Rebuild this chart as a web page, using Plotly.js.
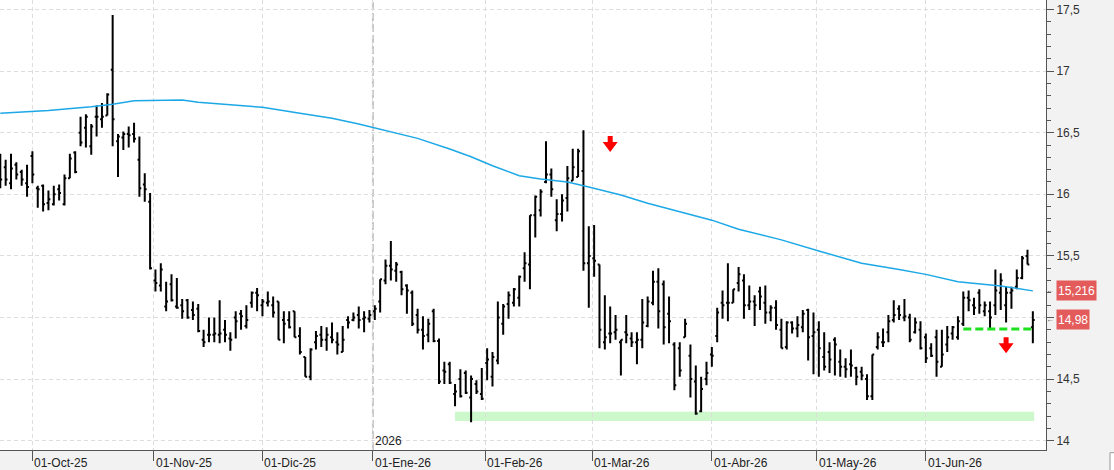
<!DOCTYPE html>
<html>
<head>
<meta charset="utf-8">
<script src="https://cdn.plot.ly/plotly-3.0.1.min.js"></script>
<style>
html,body{margin:0;padding:0;background:#f2f2f2;}
#chart{width:1114px;height:470px;}
</style>
</head>
<body>
<div id="chart"></div>
<script>
// ---- calendar ----
const startDate = '2025-09-23';
const endDate = '2026-06-29';
const holidays = ['2025-12-25','2025-12-26','2026-01-01','2026-04-03','2026-04-06','2026-05-01'];

// ---- OHLC data (one value per trading day) ----
const open = [
16.25,16.22,16.09,16.24,16.18,16.09,16.31,16.05,16.07,15.93,
15.92,16.04,15.92,16.13,16.34,16.50,16.54,16.39,16.63,16.61,
16.64,17.01,16.43,16.46,16.49,16.49,16.28,16.08,15.94,15.30,
15.26,15.09,15.27,15.09,15.10,15.14,15.06,15.07,14.82,14.86,
14.86,14.86,14.90,14.83,15.00,15.03,14.93,15.12,15.20,15.10,
15.12,15.10,15.13,14.98,14.98,15.05,14.85,14.68,14.52,14.80,
14.86,14.82,14.84,14.80,14.72,14.98,14.98,15.02,14.99,14.99,
15.05,15.13,15.30,15.42,15.38,15.37,15.26,15.20,15.02,14.90,
14.86,15.05,14.81,14.57,14.62,14.38,14.50,14.55,14.35,14.46,
14.38,14.63,14.52,14.65,14.95,15.11,15.12,15.16,15.40,15.43,
15.83,15.87,16.10,16.16,15.79,15.84,15.97,16.11,16.14,16.19,
15.44,15.48,15.43,14.80,14.87,14.88,14.80,14.88,14.83,14.80,
14.82,14.93,15.12,15.29,15.27,15.03,14.78,14.75,14.84,14.69,
14.48,14.24,14.50,14.70,14.85,15.12,15.12,15.12,15.28,15.30,
15.10,15.13,15.21,15.12,15.04,15.08,14.90,14.76,14.96,14.91,
14.92,15.06,14.85,14.90,14.68,14.72,14.82,14.64,14.60,14.62,
14.59,14.56,14.50,14.36,14.76,14.80,14.88,14.98,15.07,15.00,
15.00,14.88,14.90,14.84,14.75,14.84,14.60,14.78,14.87,14.84,
14.95,15.16,15.10,15.20,15.05,15.05,15.10,15.20,15.10,15.20,
15.25,15.32,15.50,14.92];
const high = [
16.33,16.28,16.33,16.26,16.20,16.24,16.35,16.07,16.08,16.03,
16.07,16.08,16.16,16.33,16.35,16.63,16.65,16.57,16.72,16.74,
16.82,17.455,16.49,16.51,16.55,16.58,16.47,16.17,16.01,15.39,
15.44,15.29,15.35,15.32,15.15,15.15,15.13,15.11,14.90,15.00,
15.00,15.14,14.98,14.88,15.05,15.06,15.10,15.21,15.24,15.15,
15.21,15.17,15.13,15.05,15.05,15.05,14.92,14.68,14.75,14.89,
14.93,14.92,14.96,14.88,14.93,15.01,15.04,15.09,15.05,15.06,
15.10,15.31,15.47,15.62,15.45,15.38,15.27,15.22,15.07,15.01,
14.99,15.07,14.83,14.64,14.64,14.46,14.58,14.57,14.53,14.49,
14.59,14.75,14.72,15.13,15.11,15.21,15.24,15.34,15.53,15.83,
15.99,16.04,16.43,16.21,15.96,16.00,16.23,16.37,16.37,16.52,
15.74,15.75,15.43,15.18,15.09,15.02,14.82,15.02,14.88,14.88,
15.15,15.17,15.38,15.40,15.30,15.17,14.80,14.80,14.99,14.78,
14.61,14.52,14.64,14.76,15.08,15.22,15.44,15.23,15.41,15.35,
15.26,15.18,15.25,15.26,15.10,15.14,14.99,14.97,14.97,15.01,
15.06,15.07,15.04,14.97,14.88,14.80,14.84,14.74,14.67,14.74,
14.60,14.60,14.54,14.70,14.88,14.91,15.02,15.14,15.10,15.15,
15.03,15.00,14.97,14.87,14.79,14.90,14.90,14.93,14.93,15.01,
15.21,15.22,15.16,15.23,15.13,15.13,15.39,15.36,15.25,15.25,
15.39,15.50,15.55,15.05];
const low = [
16.05,16.07,16.04,16.12,16.07,15.98,16.09,15.89,15.86,15.87,
15.91,15.95,15.91,16.13,16.17,16.39,16.38,16.32,16.47,16.54,
16.64,16.39,16.14,16.36,16.38,16.42,15.98,15.94,15.39,15.21,
15.21,15.05,15.13,15.07,14.99,14.99,14.98,14.88,14.76,14.80,
14.80,14.79,14.80,14.73,14.83,14.90,14.91,15.08,15.05,15.01,
15.09,15.00,14.82,14.79,14.91,14.84,14.70,14.52,14.49,14.74,
14.76,14.73,14.79,14.70,14.72,14.91,14.97,14.91,14.88,14.96,
14.98,15.04,15.27,15.30,15.29,15.18,15.03,14.93,14.87,14.74,
14.80,14.80,14.46,14.46,14.46,14.28,14.35,14.38,14.15,14.38,
14.33,14.49,14.44,14.62,14.86,14.99,15.09,15.09,15.29,15.23,
15.65,15.82,16.09,15.98,15.70,15.78,15.86,16.11,16.14,15.38,
15.08,15.33,14.75,14.74,14.79,14.82,14.53,14.79,14.76,14.62,
14.75,14.92,15.10,14.91,14.78,14.79,14.41,14.52,14.84,14.35,
14.21,14.23,14.45,14.60,14.80,14.99,14.97,15.12,15.21,14.99,
15.06,14.93,15.06,14.95,14.97,14.90,14.75,14.74,14.87,14.84,
14.88,14.65,14.54,14.52,14.57,14.55,14.53,14.52,14.51,14.52,
14.45,14.49,14.33,14.33,14.74,14.76,14.80,14.96,14.98,14.97,
14.80,14.87,14.74,14.63,14.68,14.52,14.60,14.72,14.82,14.82,
14.93,15.05,15.02,15.03,15.01,14.91,15.02,15.06,14.96,15.07,
15.23,15.31,15.43,14.79];
const close = [
16.12,16.12,16.21,16.16,16.12,16.06,16.16,16.04,15.92,15.96,
16.00,16.01,16.13,16.29,16.18,16.42,16.63,16.55,16.63,16.63,
16.81,16.61,16.47,16.49,16.48,16.45,16.05,16.04,15.40,15.28,
15.39,15.13,15.14,15.08,15.05,15.00,15.02,14.89,14.80,14.86,
14.87,14.87,14.86,14.82,14.97,15.01,14.98,15.20,15.18,15.13,
15.13,15.04,14.82,14.95,14.92,14.84,14.72,14.52,14.74,14.85,
14.82,14.86,14.82,14.78,14.82,14.96,15.00,14.98,15.00,15.02,
15.07,15.31,15.42,15.39,15.43,15.23,15.22,14.95,14.90,14.85,
14.95,14.81,14.48,14.56,14.47,14.40,14.36,14.39,14.50,14.40,
14.34,14.66,14.68,15.00,15.09,15.18,15.23,15.33,15.44,15.83,
15.98,16.02,16.16,16.04,15.84,15.95,16.13,16.22,16.35,15.44,
15.50,15.46,14.90,14.84,14.87,14.90,14.82,14.86,14.80,14.82,
14.96,15.13,15.29,15.05,14.92,14.97,14.45,14.57,14.95,14.50,
14.22,14.42,14.55,14.69,15.04,15.10,15.12,15.23,15.35,15.10,
15.13,15.10,15.17,15.04,15.08,14.94,14.75,14.96,14.91,14.94,
15.03,14.84,14.88,14.75,14.60,14.66,14.78,14.60,14.58,14.61,
14.52,14.53,14.36,14.70,14.84,14.80,14.97,15.02,15.02,15.01,
14.82,14.96,14.75,14.67,14.69,14.64,14.70,14.84,14.92,14.97,
15.16,15.14,15.08,15.10,15.10,15.00,15.22,15.30,15.20,15.22,
15.32,15.48,15.43,14.98];

// ---- moving average (sampled readings, bar number -> value) ----
const maBar = [0,9,17,21,25,30,34,37,45,49,56,62,67,71,78,84,88,92,97,101,106,110,116,121,127,133,138,146,153,161,168,173,179,187,193];
const maVal = [16.657,16.68,16.71,16.73,16.76,16.765,16.765,16.747,16.717,16.706,16.657,16.617,16.571,16.53,16.454,16.368,16.305,16.232,16.151,16.124,16.10,16.06,15.994,15.927,15.859,15.79,15.716,15.63,15.54,15.44,15.39,15.35,15.29,15.256,15.216];

// ---- axis labels ----
const monthStarts = ['2025-10-01','2025-11-01','2025-12-01','2026-01-01','2026-02-01','2026-03-01','2026-04-01','2026-05-01','2026-06-01'];
const monthLabels = ['01-Oct-25','01-Nov-25','01-Dic-25','01-Ene-26','01-Feb-26','01-Mar-26','01-Abr-26','01-May-26','01-Jun-26'];
const yearStart = '2026-01-01';
const yearLabel = '2026';
const priceTicks = [14, 14.5, 15, 15.5, 16, 16.5, 17, 17.5];
// the "15" label is covered by the last-price tag in the original
const priceTickLabels = ['14', '14,5', '', '15,5', '16', '16,5', '17', '17,5'];

// ---- drawings ----
const supportZone = {from:'2026-01-23', to:'2026-06-29', lo:14.16, hi:14.235};
const breakLine = {from:'2026-06-10', to:'2026-06-29', level:14.907};
const arrows = [{date:'2026-03-05', top:16.473},{date:'2026-06-22', top:14.839}];

// trading-day calendar
function tradingDays(s, e, hol){
  const out=[]; const d=new Date(s+'T00:00:00Z'); const end=new Date(e+'T00:00:00Z');
  while(d<=end){
    const wd=d.getUTCDay(); const iso=d.toISOString().slice(0,10);
    if(wd!==0 && wd!==6 && hol.indexOf(iso)<0) out.push(iso);
    d.setUTCDate(d.getUTCDate()+1);
  }
  return out;
}
const dates = tradingDays(startDate, endDate, holidays);
const idx = dates.map((_,i)=>i);
function barOf(date){ for(let i=0;i<dates.length;i++){ if(dates[i]>=date) return i; } return dates.length-1; }
// a calendar boundary that is not a trading day sits slightly before the next session
function boundaryOf(date){ const i=barOf(date); return dates[i]===date ? i : i-0.35; }
const monthIdx = monthStarts.map(boundaryOf);
const yearIdx = boundaryOf(yearStart);

const fmt = (v,n)=>v.toFixed(n).replace('.',',');

const traces = [
  {type:'ohlc', x:idx, open:open, high:high, low:low, close:close,
   increasing:{line:{color:'#000000', width:2}}, decreasing:{line:{color:'#000000', width:2}},
   tickwidth:0.35, hoverinfo:'skip'},
  {type:'scatter', mode:'lines', x:maBar, y:maVal, line:{color:'#1ca8e6', width:1.5}, hoverinfo:'skip'}
];

const shapes = [
  {type:'rect', xref:'x', yref:'y', x0:barOf(supportZone.from), x1:barOf(supportZone.to)+0.25,
   y0:supportZone.lo, y1:supportZone.hi, fillcolor:'#ccf8cc', line:{width:0}, layer:'below'},
  {type:'line', xref:'x', yref:'paper', x0:yearIdx, x1:yearIdx, y0:0, y1:1,
   line:{color:'#c6c6c6', width:2, dash:'8px,3px'}, layer:'below'},
  {type:'line', xref:'x', yref:'y', x0:barOf(breakLine.from), x1:barOf(breakLine.to),
   y0:breakLine.level, y1:breakLine.level, line:{color:'#1ee01e', width:3, dash:'8px,4px'}},
  {type:'rect', xref:'paper', yref:'paper', x0:1.0612, x1:1.08, y0:-0.062, y1:-0.006,
   fillcolor:'#ffffff', line:{color:'#999999', width:1}}
];
arrows.forEach(a=>{
  shapes.push({type:'path', xref:'x', yref:'y', xsizemode:'pixel', ysizemode:'pixel',
    xanchor:barOf(a.date), yanchor:a.top,
    path:'M -2.5,0 L 2.5,0 L 2.5,-6 L 7.5,-6 L 0,-16 L -7.5,-6 L -2.5,-6 Z',
    fillcolor:'#ff0000', line:{width:0}});
});

const annotations = monthIdx.map((m,i)=>({
  x:m, xref:'x', y:-0.028, yref:'paper', text:monthLabels[i], showarrow:false,
  xanchor:'left', yanchor:'middle', xshift:0, font:{size:12, color:'#222'}
}));
annotations.push({x:yearIdx, xref:'x', y:0.019, yref:'paper', text:yearLabel, showarrow:false,
  xanchor:'left', yanchor:'middle', font:{size:12, color:'#222'}});
const lastMA = maVal[maVal.length-1];
const lastClose = close[close.length-1];
[[lastMA,3],[lastClose,2]].forEach(([v,n])=>{
  annotations.push({x:1.0096, xref:'paper', y:v, yref:'y', text:fmt(v,n), showarrow:false,
    xanchor:'left', yanchor:'middle', bgcolor:'#e35b5b', borderpad:1, height:17,
    font:{size:12, color:'#ffffff'}});
  annotations.push({x:1.0096, xref:'paper', y:v, yref:'y', text:'←', showarrow:false,
    xanchor:'right', yanchor:'middle', xshift:-1, borderpad:0, font:{size:8, color:'#555'}});
});

const layout = {
  width:1114, height:470,
  margin:{l:0, r:68, t:0, b:20, pad:0},
  paper_bgcolor:'#f2f2f2', plot_bgcolor:'#ffffff',
  showlegend:false, separators:',.',
  font:{family:'"Liberation Sans", Arial, sans-serif', size:12, color:'#222'},
  xaxis:{range:[-0.056,195.46], tickmode:'array', tickvals:monthIdx, showticklabels:false,
    ticks:'outside', ticklen:10, tickcolor:'#555', tickwidth:1,
    showgrid:true, gridcolor:'#dddddd', griddash:'4px,3px', gridwidth:1,
    showline:true, linecolor:'#555', linewidth:1, zeroline:false,
    rangeslider:{visible:false}, fixedrange:true},
  yaxis:{side:'right', range:[13.9245,17.577], tickmode:'array', tickvals:priceTicks, ticktext:priceTickLabels,
    ticks:'outside', ticklen:7, tickcolor:'#555', tickwidth:1,
    showline:true, linecolor:'#555', linewidth:1,
    showgrid:true, gridcolor:'#dddddd', griddash:'4px,3px', gridwidth:1, zeroline:false,
    minor:{tickmode:'linear', dtick:0.1, tick0:14, ticks:'outside', ticklen:4, tickcolor:'#555', showgrid:false},
    tickfont:{size:12, color:'#333'}, fixedrange:true},
  shapes:shapes, annotations:annotations
};

Plotly.newPlot('chart', traces, layout, {staticPlot:true, displayModeBar:false});
</script>
</body>
</html>
